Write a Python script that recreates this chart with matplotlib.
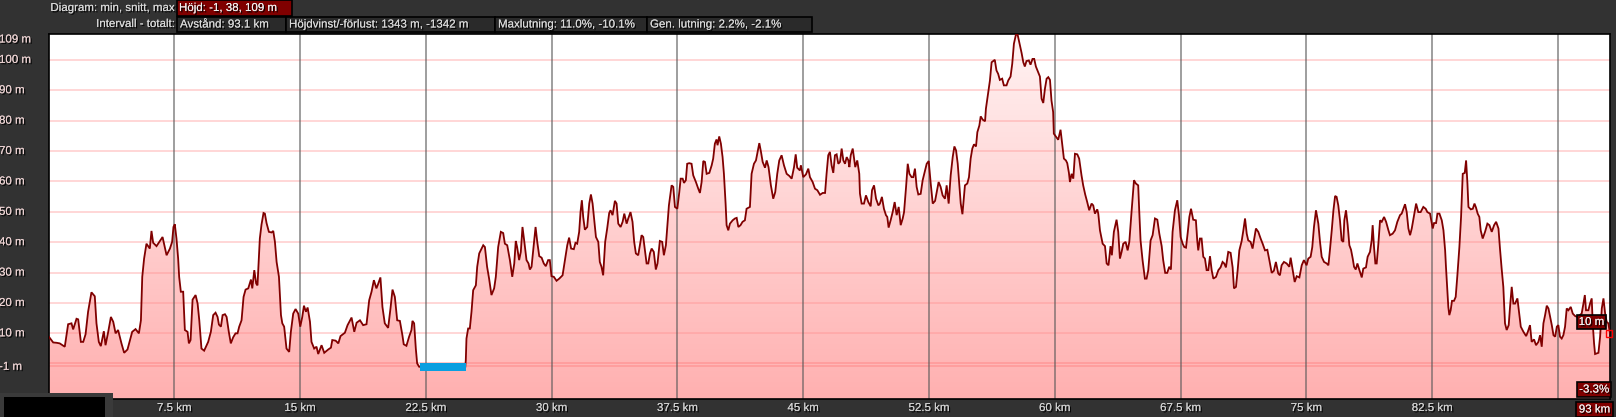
import numpy as np
import matplotlib
matplotlib.use('Agg')
import matplotlib.pyplot as plt
import matplotlib.patheffects as pe
from matplotlib.patches import Rectangle, Polygon
from matplotlib.colors import LinearSegmentedColormap

plt.rcParams['font.family'] = ['Liberation Sans', 'DejaVu Sans']

# elevation profile (km, m)
dist_km = [0.0, 0.02, 0.28, 0.48, 0.67, 0.97, 1.17, 1.37, 1.47, 1.67, 1.77, 1.93, 2.07, 2.21, 2.36, 2.56,
           2.76, 2.86, 3.0, 3.12, 3.3, 3.4, 3.56, 3.72, 3.86, 4.0, 4.15, 4.35, 4.51, 4.71, 4.99, 5.19,
           5.39, 5.51, 5.59, 5.7, 5.84, 6.04, 6.14, 6.24, 6.44, 6.64, 6.8, 7.04, 7.24, 7.37, 7.45, 7.53,
           7.63, 7.73, 7.79, 7.89, 8.03, 8.13, 8.29, 8.37, 8.47, 8.59, 8.77, 8.89, 8.99, 9.12, 9.28, 9.52,
           9.68, 9.82, 9.96, 10.08, 10.16, 10.28, 10.38, 10.52, 10.62, 10.75, 10.87, 11.01, 11.15, 11.27,
           11.37, 11.51, 11.63, 11.75, 11.91, 12.07, 12.15, 12.27, 12.38, 12.46, 12.6, 12.7, 12.82, 12.9,
           13.0, 13.14, 13.3, 13.4, 13.5, 13.6, 13.74, 13.86, 13.94, 14.05, 14.19, 14.35, 14.45, 14.59,
           14.73, 14.89, 15.01, 15.13, 15.23, 15.35, 15.45, 15.59, 15.68, 15.84, 15.98, 16.08, 16.28,
           16.44, 16.68, 16.84, 16.92, 17.12, 17.28, 17.41, 17.67, 17.83, 18.07, 18.23, 18.37, 18.57,
           18.76, 18.96, 19.12, 19.26, 19.4, 19.55, 19.65, 19.79, 19.91, 20.05, 20.25, 20.39, 20.51,
           20.65, 20.79, 20.95, 21.1, 21.18, 21.34, 21.5, 21.64, 21.7, 21.8, 21.9, 21.98, 22.1, 24.85,
           24.88, 24.92, 25.02, 25.12, 25.22, 25.32, 25.48, 25.56, 25.68, 25.82, 25.92, 26.02, 26.15,
           26.27, 26.41, 26.57, 26.67, 26.81, 26.97, 27.11, 27.21, 27.35, 27.51, 27.65, 27.77, 27.86,
           27.94, 28.06, 28.16, 28.26, 28.36, 28.5, 28.62, 28.7, 28.8, 28.9, 29.04, 29.14, 29.26, 29.4,
           29.53, 29.65, 29.79, 29.89, 29.99, 30.13, 30.29, 30.45, 30.65, 30.79, 30.93, 31.04, 31.16,
           31.32, 31.42, 31.52, 31.64, 31.72, 31.8, 31.88, 31.98, 32.12, 32.24, 32.34, 32.44, 32.52,
           32.64, 32.78, 32.87, 32.97, 33.07, 33.19, 33.31, 33.43, 33.51, 33.63, 33.77, 33.87, 33.97,
           34.11, 34.23, 34.33, 34.47, 34.56, 34.7, 34.82, 34.92, 35.02, 35.16, 35.26, 35.36, 35.46,
           35.56, 35.66, 35.76, 35.86, 35.96, 36.09, 36.21, 36.31, 36.45, 36.59, 36.69, 36.81, 36.89,
           36.99, 37.15, 37.25, 37.35, 37.49, 37.61, 37.69, 37.81, 37.89, 38.0, 38.08, 38.2, 38.34,
           38.44, 38.6, 38.74, 38.84, 38.94, 39.04, 39.14, 39.24, 39.4, 39.54, 39.63, 39.73, 39.83,
           39.89, 39.99, 40.09, 40.19, 40.27, 40.37, 40.43, 40.53, 40.63, 40.79, 40.93, 41.03, 41.13,
           41.26, 41.38, 41.52, 41.62, 41.82, 41.92, 42.06, 42.18, 42.28, 42.38, 42.48, 42.58, 42.72,
           42.82, 42.93, 43.07, 43.21, 43.33, 43.45, 43.57, 43.71, 43.85, 44.01, 44.17, 44.31, 44.45,
           44.55, 44.64, 44.8, 44.86, 45.0, 45.16, 45.3, 45.4, 45.56, 45.7, 45.84, 46.0, 46.16, 46.3,
           46.39, 46.49, 46.59, 46.69, 46.79, 46.89, 46.99, 47.09, 47.19, 47.29, 47.39, 47.49, 47.59,
           47.69, 47.75, 47.83, 47.95, 48.02, 48.1, 48.22, 48.34, 48.38, 48.48, 48.62, 48.74, 48.88,
           49.02, 49.1, 49.22, 49.34, 49.48, 49.57, 49.69, 49.81, 49.93, 50.01, 50.09, 50.21, 50.33,
           50.45, 50.57, 50.69, 50.81, 50.93, 51.01, 51.13, 51.23, 51.33, 51.46, 51.56, 51.66, 51.76,
           51.86, 52.0, 52.12, 52.26, 52.36, 52.48, 52.6, 52.72, 52.86, 52.96, 53.07, 53.19, 53.31,
           53.45, 53.55, 53.67, 53.79, 53.91, 54.01, 54.11, 54.21, 54.31, 54.39, 54.49, 54.58, 54.64,
           54.78, 54.88, 54.98, 55.08, 55.18, 55.3, 55.38, 55.5, 55.58, 55.7, 55.84, 55.89, 56.03,
           56.13, 56.23, 56.42, 56.52, 56.62, 56.72, 56.86, 56.96, 57.12, 57.22, 57.36, 57.46, 57.56,
           57.68, 57.78, 57.88, 58.02, 58.12, 58.21, 58.31, 58.45, 58.55, 58.67, 58.77, 58.87, 59.01,
           59.11, 59.21, 59.31, 59.41, 59.51, 59.61, 59.71, 59.8, 59.9, 59.94, 60.06, 60.2, 60.34,
           60.44, 60.54, 60.66, 60.74, 60.84, 60.9, 61.0, 61.1, 61.2, 61.34, 61.45, 61.59, 61.69,
           61.81, 61.93, 62.05, 62.19, 62.29, 62.39, 62.53, 62.59, 62.69, 62.85, 62.99, 63.09, 63.2,
           63.32, 63.4, 63.52, 63.68, 63.78, 63.88, 63.98, 64.08, 64.22, 64.34, 64.44, 64.58, 64.72,
           64.83, 64.97, 65.03, 65.11, 65.23, 65.37, 65.47, 65.57, 65.71, 65.83, 65.97, 66.11, 66.23,
           66.37, 66.46, 66.58, 66.7, 66.82, 66.92, 67.02, 67.16, 67.3, 67.4, 67.5, 67.62, 67.72,
           67.82, 67.92, 68.02, 68.12, 68.25, 68.41, 68.49, 68.55, 68.65, 68.75, 68.85, 68.95, 69.05,
           69.15, 69.25, 69.35, 69.45, 69.61, 69.75, 69.88, 70.0, 70.1, 70.2, 70.34, 70.48, 70.6,
           70.68, 70.8, 70.9, 71.0, 71.14, 71.24, 71.34, 71.44, 71.53, 71.67, 71.79, 71.89, 71.99,
           72.13, 72.27, 72.39, 72.53, 72.67, 72.79, 72.93, 73.06, 73.18, 73.32, 73.42, 73.52, 73.66,
           73.82, 73.98, 74.06, 74.18, 74.3, 74.42, 74.58, 74.72, 74.85, 75.01, 75.11, 75.25, 75.35,
           75.45, 75.57, 75.71, 75.81, 75.91, 76.05, 76.21, 76.31, 76.41, 76.51, 76.61, 76.71, 76.8,
           76.9, 77.0, 77.1, 77.2, 77.26, 77.36, 77.46, 77.56, 77.66, 77.76, 77.84, 77.94, 78.04,
           78.16, 78.3, 78.39, 78.55, 78.65, 78.79, 78.89, 78.95, 79.03, 79.11, 79.19, 79.29, 79.39,
           79.49, 79.63, 79.75, 79.89, 79.98, 80.14, 80.28, 80.42, 80.58, 80.68, 80.78, 80.88, 80.98,
           81.08, 81.18, 81.28, 81.42, 81.54, 81.67, 81.81, 81.97, 82.11, 82.21, 82.37, 82.47, 82.53,
           82.61, 82.73, 82.81, 82.93, 83.07, 83.17, 83.27, 83.32, 83.4, 83.46, 83.52, 83.6, 83.68,
           83.8, 83.9, 84.0, 84.12, 84.22, 84.32, 84.44, 84.52, 84.6, 84.66, 84.8, 84.92, 85.02,
           85.11, 85.21, 85.31, 85.39, 85.51, 85.65, 85.79, 85.91, 86.05, 86.19, 86.31, 86.45, 86.54,
           86.64, 86.74, 86.84, 86.94, 87.06, 87.14, 87.24, 87.34, 87.44, 87.58, 87.7, 87.78, 87.94,
           88.1, 88.2, 88.33, 88.43, 88.57, 88.69, 88.83, 88.93, 89.03, 89.13, 89.23, 89.33, 89.43,
           89.53, 89.63, 89.73, 89.83, 89.93, 90.02, 90.12, 90.22, 90.32, 90.42, 90.52, 90.62, 90.76,
           90.88, 91.02, 91.16, 91.41, 91.51, 91.6, 91.67, 91.81, 91.91, 92.01, 92.07, 92.15, 92.21,
           92.41, 92.51, 92.61, 92.71, 92.81, 92.9, 93.0, 93.1]
elev_m = [9.0, 8.9, 7.0, 6.9, 6.7, 5.6, 13.0, 13.3, 11.3, 14.8, 14.6, 7.2, 7.2, 9.7, 17.1, 23.5,
          22.2, 13.3, 7.2, 5.8, 10.7, 6.1, 10.5, 15.4, 13.8, 10.0, 11.1, 6.7, 3.6, 4.7, 10.5, 11.4,
          10.0, 14.3, 28.6, 34.6, 39.5, 37.9, 43.7, 39.8, 38.7, 40.4, 41.7, 35.7, 37.9, 40.1, 45.0, 45.9,
          41.2, 34.6, 28.6, 23.7, 23.7, 11.1, 10.5, 6.7, 7.8, 21.1, 22.6, 19.8, 14.3, 5.0, 4.3, 7.2,
          10.5, 16.0, 16.8, 15.4, 12.9, 12.2, 16.0, 16.3, 15.4, 10.5, 6.7, 8.7, 10.0, 10.0,
          12.2, 14.3, 22.0, 24.4, 24.8, 27.7, 24.8, 30.8, 26.4, 25.8, 41.2, 45.8, 49.6, 49.4,
          46.3, 43.4, 43.2, 43.7, 40.1, 33.5, 28.6, 16.0, 13.3, 12.2, 5.0, 3.9, 10.5, 16.5,
          18.0, 16.5, 12.2, 15.4, 19.1, 17.1, 18.5, 13.8, 7.2, 5.0, 5.6, 3.2, 6.1,
          3.6, 4.7, 5.3, 7.8, 7.6, 6.7, 9.1, 10.2, 12.7, 15.2, 10.5, 13.5, 14.3,
          12.7, 13.0, 20.9, 23.7, 27.5, 24.8, 26.2, 28.4, 18.7, 13.3, 11.8, 18.2, 24.4,
          22.0, 14.3, 14.1, 9.4, 6.4, 5.9, 8.9, 11.1, 14.1, 13.3, 5.0, 0.1, -1.0, -1.0,
          1.2, 8.3, 11.6, 11.6, 17.1, 24.2, 25.8, 31.9, 36.3, 37.9, 39.0, 38.4, 31.9,
          28.0, 22.6, 24.8, 28.6, 38.4, 43.4, 43.0, 39.5, 39.0, 34.1, 28.6, 33.0, 40.4,
          38.4, 34.1, 36.8, 45.0, 40.6, 34.1, 33.0, 31.0, 31.9, 37.3, 45.0, 40.1, 35.4, 34.9,
          33.0, 32.1, 34.1, 34.1, 28.8, 28.6, 27.3, 28.0, 29.1, 34.1, 39.0, 41.5, 37.9,
          37.7, 39.8, 39.5, 43.4, 49.9, 53.8, 48.3, 44.1, 45.0, 52.7, 55.7, 52.7, 48.3,
          41.7, 40.1, 33.5, 31.9, 29.1, 40.1, 44.5, 49.6, 50.5, 48.9, 53.6, 52.7, 46.1,
          45.0, 46.7, 49.4, 46.1, 47.7, 49.9, 46.7, 40.1, 36.3, 35.7, 39.0, 42.3, 41.7,
          37.3, 33.0, 33.0, 36.3, 37.9, 36.8, 31.0, 33.0, 40.4, 40.1, 35.7, 39.0, 45.0,
          52.1, 58.7, 58.2, 51.6, 51.0, 56.5, 60.9, 60.9, 59.5, 60.4, 65.8, 66.0, 65.8,
          62.0, 59.8, 57.6, 56.2, 59.8, 66.7, 66.4, 62.5, 62.8, 65.3, 67.5, 72.4, 73.8,
          71.9, 74.8, 72.4, 68.0, 62.5, 52.7, 45.6, 43.9, 46.1, 47.2, 47.8, 48.0, 45.0,
          45.6, 46.7, 47.2, 51.0, 51.6, 62.5, 65.8, 66.9, 69.7, 72.6, 69.7, 66.4, 64.5,
          66.9, 64.7, 58.7, 54.3, 56.5, 62.5, 66.9, 68.6, 65.3, 62.5, 61.8, 60.9, 64.7,
          68.9, 64.5, 63.6, 65.3, 61.4, 62.3, 64.2, 61.4, 59.8, 57.6, 57.1, 55.6, 56.2, 56.2,
          62.5, 68.6, 69.7, 65.3, 62.8, 68.6, 68.9, 65.8, 66.4, 70.8, 66.9, 65.8, 68.0,
          66.9, 64.7, 68.6, 70.8, 68.0, 64.7, 66.9, 62.5, 56.0, 52.7, 52.7, 55.4, 53.2,
          51.8, 57.1, 58.7, 54.3, 52.1, 52.7, 54.9, 51.0, 48.9, 48.3, 44.8, 47.2, 49.9,
          53.2, 48.9, 51.6, 45.6, 47.8, 49.9, 58.2, 65.8, 62.5, 61.4, 61.4, 64.2, 58.2,
          55.7, 55.9, 60.4, 63.6, 65.8, 66.7, 59.3, 52.7, 53.6, 56.5, 59.8, 58.2, 55.4,
          54.3, 58.7, 52.7, 62.0, 68.0, 71.5, 70.2, 65.8, 58.7, 52.7, 49.2, 54.9, 58.7,
          59.3, 61.4, 67.5, 70.8, 72.2, 71.5, 76.2, 78.4, 81.4, 80.3, 79.8, 83.9, 89.4,
          93.2, 99.2, 100.0, 96.5, 95.4, 93.4, 93.8, 91.6, 91.6, 93.2, 94.5, 98.7, 105.3,
          108.3, 108.3, 105.8, 102.2, 99.2, 97.8, 99.6, 99.8, 98.4, 100.3, 100.3, 97.8, 95.9,
          94.5, 87.2, 85.8, 90.5, 93.8, 94.3, 93.4, 86.6, 82.8, 75.7, 74.8, 73.7, 77.0,
          72.4, 67.5, 66.9, 66.0, 62.8, 59.8, 62.5, 60.9, 69.1, 68.9, 67.5, 62.0, 58.7,
          55.7, 53.2, 50.5, 52.7, 52.1, 49.4, 50.8, 49.4, 43.9, 39.5, 38.7, 33.0, 32.4,
          38.7, 35.7, 43.4, 47.4, 43.4, 34.6, 36.8, 39.5, 40.1, 37.3, 40.1, 50.5, 60.4,
          59.3, 58.7, 50.5, 40.6, 34.1, 28.0, 28.0, 30.8, 40.6, 42.3, 47.8, 47.4, 42.8,
          38.7, 34.1, 29.9, 29.9, 31.9, 31.0, 43.4, 50.5, 53.8, 48.9, 41.7, 39.5, 38.4,
          38.2, 43.0, 48.3, 51.0, 47.4, 47.2, 40.6, 37.3, 41.2, 41.2, 35.2, 34.6, 30.8,
          30.8, 35.4, 30.8, 28.0, 28.6, 30.8, 31.7, 33.5, 33.0, 31.7, 36.8, 36.5, 31.7,
          24.8, 25.3, 30.8, 37.3, 40.4, 43.9, 47.8, 42.8, 40.6, 40.1, 37.9, 41.2, 44.5,
          43.4, 41.2, 39.5, 37.3, 37.5, 34.1, 29.9, 30.6, 33.5, 29.7, 29.1, 32.4, 33.5,
          33.0, 31.9, 34.9, 30.8, 26.9, 28.8, 28.4, 32.4, 34.1, 32.4, 34.6, 35.2, 38.4,
          45.0, 50.5, 46.1, 40.1, 35.2, 33.5, 33.0, 32.4, 37.9, 43.9, 50.5, 55.2, 54.9,
          52.1, 47.2, 40.6, 40.1, 47.2, 50.5, 45.6, 39.0, 37.5, 34.6, 31.9, 31.0, 33.0,
          30.8, 28.4, 31.3, 31.7, 35.2, 36.8, 40.6, 45.6, 38.4, 33.0, 33.0, 39.5, 47.2,
          46.7, 48.3, 46.7, 43.9, 42.3, 42.8, 43.9, 46.7, 48.9, 49.4, 51.0, 52.5, 49.9,
          44.5, 42.3, 44.5, 48.9, 52.7, 49.9, 49.9, 51.6, 51.0, 49.9, 49.4, 46.3, 44.5,
          46.3, 46.3, 49.4, 49.4, 47.2, 43.9, 37.3, 31.9, 24.2, 18.7, 16.0, 17.6, 20.7,
          20.7, 22.0, 29.1, 38.4, 48.3, 62.5, 62.8, 66.9, 59.3, 51.6, 50.8, 51.0, 52.7,
          51.4, 49.4, 48.3, 43.9, 41.2, 43.4, 46.1, 45.6, 43.4, 45.6, 46.7, 44.5, 37.9,
          31.3, 25.3, 13.3, 11.1, 12.7, 18.7, 25.3, 19.8, 19.8, 21.5, 16.0, 12.2, 10.5,
          9.1, 10.5, 12.7, 7.2, 8.0, 6.1, 7.2, 9.4, 5.6, 13.3, 16.0, 19.1, 18.2,
          15.4, 12.7, 9.4, 8.9, 12.2, 12.7, 8.9, 8.3, 9.4, 12.2, 18.2, 17.6, 18.7,
          16.5, 15.7, 15.4, 16.5, 19.6, 22.6, 17.6, 17.6, 19.8, 21.5, 13.3, 6.7, 3.2,
          3.6, 8.9, 18.2, 21.5, 16.5, 13.8, 13.3, 10.0]

y_ticks = [100, 90, 80, 70, 60, 50, 40, 30, 20, 10, -1]
x_ticks = [7.5, 15, 22.5, 30, 37.5, 45, 52.5, 60, 67.5, 75, 82.5]
x_grid = [7.5, 15, 22.5, 30, 37.5, 45, 52.5, 60, 67.5, 75, 82.5, 90]
highlight_km = [22.14, 24.88]   # blue selection
total_km = 93.1
y_min, y_max = -11.6, 108.6

header_row1 = ["Höjd: -1, 38, 109 m"]
header_row2 = ["Avstånd: 93.1 km", "Höjdvinst/-förlust: 1343 m, -1342 m",
               "Maxlutning: 11.0%, -10.1%", "Gen. lutning: 2.2%, -2.1%"]

W, H = 1616, 417
BG = '#323232'
FS = 8.3
fig = plt.figure(figsize=(W / 100, H / 100), dpi=100, facecolor=BG)

# axes placed in pixel coordinates (from top-left)
ax_l, ax_t, ax_r, ax_b = 48.5, 33.7, 1610, 399
ax = fig.add_axes([ax_l / W, 1 - ax_b / H, (ax_r - ax_l) / W, (ax_b - ax_t) / H])
ax.set_facecolor('white')
ax.set_xlim(0, total_km)
ax.set_ylim(y_min, y_max)
ax.set_xticks([])
ax.set_yticks([])
for s in ax.spines.values():
    s.set_color('black')
    s.set_linewidth(1.2)

x = np.array(dist_km)
y = np.array(elev_m)

# gradient fill clipped to the profile
cmap = LinearSegmentedColormap.from_list('pinkgrad', ['#ffb0b0', '#fff3f3'])
grad = np.linspace(0, 1, 256).reshape(-1, 1)
im = ax.imshow(grad, extent=[0, total_km, y_min, y_max], origin='lower', aspect='auto',
               cmap=cmap, zorder=1, interpolation='bilinear')
verts = [(x[0], y_min)] + list(zip(x, y)) + [(x[-1], y_min)]
poly = Polygon(verts, closed=True, facecolor='none', edgecolor='none', transform=ax.transData)
ax.add_patch(poly)
im.set_clip_path(poly)

# grid drawn over the fill
for v in [100, 90, 80, 70, 60, 50, 40, 30, 20, 10]:
    ax.axhline(v, color='#ff8c8c', alpha=0.45, lw=1.1, zorder=2)
for v in [0.1, -0.8]:
    ax.axhline(v, color='#ff7f7f', alpha=0.55, lw=1.1, zorder=2)
for v in x_grid:
    ax.axvline(v, color='#5a5a5a', alpha=0.75, lw=1.1, zorder=2)

ax.plot(x, y, color='#800000', lw=1.3, zorder=3, solid_joinstyle='miter')

# blue selected segment
ax.fill_between(highlight_km, [-2.4, -2.4], [0.2, 0.2], color='#0a9fe0', zorder=4, lw=0)

shadow = [pe.withSimplePatchShadow(offset=(1, -1), shadow_rgbFace='black', alpha=0.9), pe.Normal()]


def px_text(xp, yp, s, color='#d8d8d8', ha='left', size=FS, **kw):
    fig.text(xp / W, 1 - yp / H, s, color=color, ha=ha, va='center', fontsize=size,
             path_effects=shadow, **kw)


def px_box(x0, y0, x1, y1, face, edge='black', lw=1.2):
    fig.add_artist(Rectangle((x0 / W, 1 - y1 / H), (x1 - x0) / W, (y1 - y0) / H,
                             transform=fig.transFigure, facecolor=face, edgecolor=edge, lw=lw))


# y labels
for v in y_ticks:
    yp = ax_t + (y_max - v) / (y_max - y_min) * (ax_b - ax_t)
    px_text(-1, yp, f"{v} m", color='#ecd2d2')
px_text(-1, 39.5, "109 m", color='#ecd2d2')

# x labels
for v in x_ticks:
    xp = ax_l + v / total_km * (ax_r - ax_l)
    px_text(xp, 408, f"{v:g} km", ha='center', color='#d0d0d0')

# header
px_text(175, 8, "Diagram: min, snitt, max", ha='right')
px_box(177, 0, 292, 15.5, '#800000')
px_text(179, 8, header_row1[0], color='#f0f0f0')
px_text(175, 24, "Intervall - totalt:", ha='right')
edges = [177, 286, 495, 647, 812]
for i, lab in enumerate(header_row2):
    px_box(edges[i], 16.5, edges[i + 1], 32, '#2a2a2a')
    px_text(edges[i] + 3, 24.5, lab)

# bottom-left block
px_box(0, 393, 113, 417, '#3a3a3a', edge='none')
px_box(4, 397, 105, 417, 'black', edge='none')

# right side value boxes
px_box(1577, 315, 1606, 329, '#800000')
px_text(1591.5, 322, "10 m", ha='center', color='#f0f0f0')
px_box(1605.5, 330, 1611.5, 336.5, 'none', edge='red', lw=1)
px_box(1577, 382, 1611, 397, '#800000')
px_text(1594, 389.5, "-3.3%", ha='center', color='#f0f0f0')
px_box(1576, 402, 1613, 417, '#800000')
px_text(1594.5, 409.5, "93 km", ha='center', color='#f0f0f0')

fig.savefig('out.png', dpi=100, facecolor=BG)
